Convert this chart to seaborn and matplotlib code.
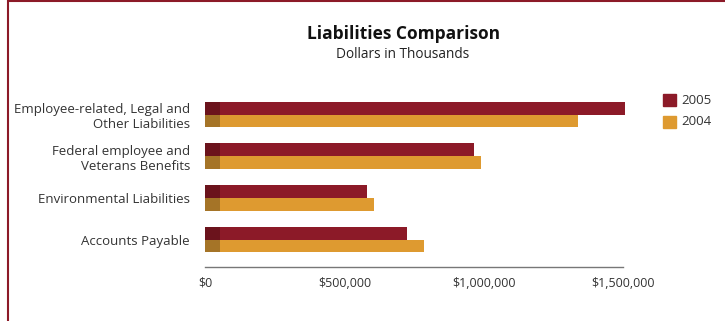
import matplotlib
matplotlib.use("Agg")
import matplotlib.pyplot as plt
import seaborn as sns
import pandas as pd
from matplotlib.ticker import FuncFormatter
from matplotlib.patches import Rectangle

categories = ["Employee-related, Legal and\nOther Liabilities",
              "Federal employee and\nVeterans Benefits",
              "Environmental Liabilities",
              "Accounts Payable"]
values_2005 = [1507000, 965000, 581000, 725000]
values_2004 = [1339000, 991000, 606000, 786000]
years = ["2005", "2004"]
xticks = [0, 500000, 1000000, 1500000]

df = pd.DataFrame({
    "category": categories * 2,
    "value": values_2005 + values_2004,
    "year": [years[0]] * 4 + [years[1]] * 4,
})

sns.set_style("white")
plt.rcParams['font.family'] = ['Open Sans', 'DejaVu Sans']

fig = plt.figure(figsize=(7.25, 3.21), dpi=100)
ax = fig.add_axes([0.283, 0.168, 0.603, 0.54])

palette = {"2005": "#8C1A28", "2004": "#DE9A30"}
sns.barplot(data=df, y="category", x="value", hue="year", order=categories,
            hue_order=years, palette=palette, orient="h", width=0.62,
            saturation=1, ax=ax, legend=False, linewidth=0)

# darker 3D-like base on each bar
base = df.copy()
base["value"] = 52000
sns.barplot(data=base, y="category", x="value", hue="year", order=categories,
            hue_order=years, palette={"2005": "#5E1118", "2004": "#8E6424"},
            orient="h", width=0.62, saturation=1, ax=ax, legend=False,
            alpha=0.7, linewidth=0)

ax.set_xlim(0, 1570000)
ax.set_ylim(3.66, -0.5)
ax.set_xlabel("")
ax.set_ylabel("")
ax.set_xticks(xticks)
ax.xaxis.set_major_formatter(FuncFormatter(lambda v, p: "${:,.0f}".format(v)))
for s in ["top", "right", "left"]:
    ax.spines[s].set_visible(False)
ax.spines["bottom"].set_color("#777777")
ax.spines["bottom"].set_linewidth(1.0)
ax.spines["bottom"].set_bounds(0, 1500000)
ax.tick_params(axis="x", direction="in", length=3, color="#777777",
               labelsize=9, labelcolor="#333333", pad=7)
ax.tick_params(axis="y", length=0, labelsize=9.5, labelcolor="#333333", pad=11)
for lbl in ax.get_yticklabels():
    lbl.set_horizontalalignment("right")
    lbl.set_multialignment("right")

fig.text(0.556, 0.895, "Liabilities Comparison", ha="center", va="center",
         fontsize=12.5, fontweight="bold", color="#111111")
fig.text(0.556, 0.83, "Dollars in Thousands", ha="center", va="center",
         fontsize=9.8, color="#222222")

# legend
for i, y in enumerate(years):
    yy = 0.688 - i * 0.068
    fig.patches.append(Rectangle((0.914, yy - 0.018), 0.018, 0.036,
                                 transform=fig.transFigure,
                                 color=palette[y]))
    fig.text(0.94, yy, y, va="center", ha="left", fontsize=9.5, color="#333333")

# border
fig.add_artist(plt.Line2D([0.011, 0.011], [0, 1], transform=fig.transFigure,
                          color="#8C1A28", lw=1.5))
fig.add_artist(plt.Line2D([0.011, 1], [0.996, 0.996], transform=fig.transFigure,
                          color="#8C1A28", lw=1.5))

fig.savefig("out.png", dpi=100)
